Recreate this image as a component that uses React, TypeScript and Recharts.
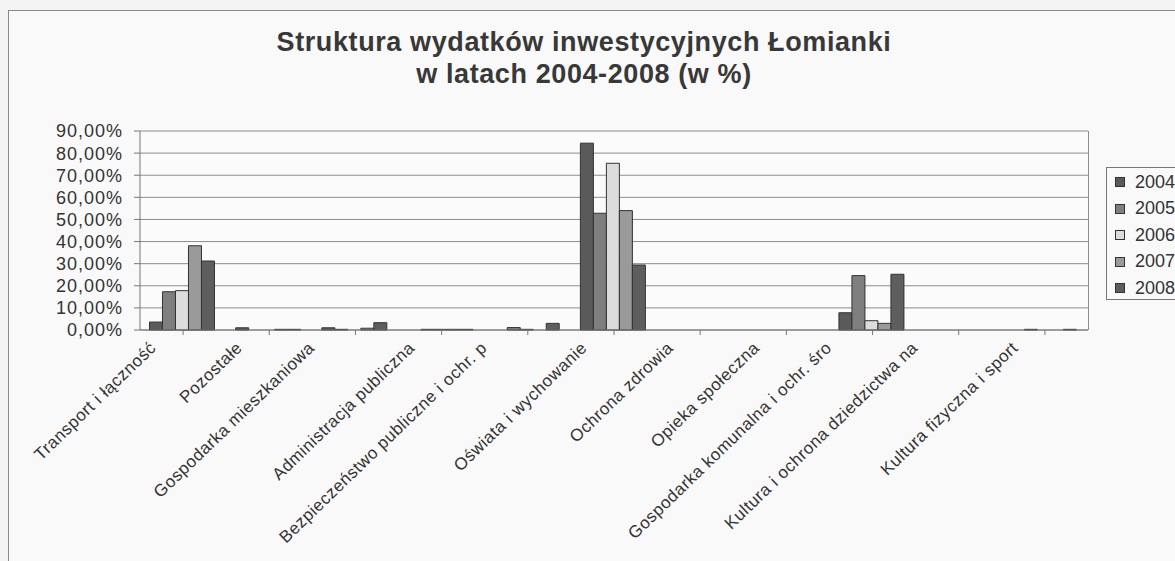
import { BarChart, Bar, XAxis, YAxis, CartesianGrid } from "recharts";

// Dane (w %)
const kategorie = [
  "Transport i łączność",
  "Pozostałe",
  "Gospodarka mieszkaniowa",
  "Administracja publiczna",
  "Bezpieczeństwo publiczne i ochr. p",
  "Oświata i wychowanie",
  "Ochrona zdrowia",
  "Opieka społeczna",
  "Gospodarka  komunalna i ochr. śro",
  "Kultura i ochrona dziedzictwa na",
  "Kultura fizyczna i sport",
];

// etykiety obcięte w oryginale (Excel ucina je od prawej)
const obciete = new Set([
  "Gospodarka mieszkaniowa",
  "Bezpieczeństwo publiczne i ochr. p",
  "Gospodarka  komunalna i ochr. śro",
  "Kultura i ochrona dziedzictwa na",
]);

const lata = ["2004", "2005", "2006", "2007", "2008"];

const w2004 = [3.6, 1.0, 1.0, 0, 0, 84.5, 0, 0, 7.8, 0, 0];
const w2005 = [17.3, 0, 0.3, 0.3, 1.1, 52.8, 0, 0, 24.6, 0, 0.3];
const w2006 = [17.8, 0, 0, 0.3, 0.3, 75.4, 0, 0, 4.2, 0, 0];
const w2007 = [38.1, 0.3, 0.8, 0.3, 0, 54.0, 0, 0, 3.0, 0, 0];
const w2008 = [31.2, 0.3, 3.3, 0.3, 3.0, 29.4, 0, 0, 25.2, 0, 0.3];

const yTicks = [0, 10, 20, 30, 40, 50, 60, 70, 80, 90];

const kolory = ["#5a5a5a", "#7f7f7f", "#dcdcdc", "#9a9a9a", "#5e5e5e"];

const serie = [w2004, w2005, w2006, w2007, w2008];

const dane = kategorie.map((nazwa, i) => {
  const wiersz: Record<string, string | number> = { nazwa };
  lata.forEach((rok, j) => {
    wiersz[rok] = serie[j][i];
  });
  return wiersz;
});

const FONT = "'Liberation Sans', Arial, sans-serif";

function formatProcent(v: number): string {
  return v.toFixed(2).replace(".", ",") + "%";
}

function EtykietaX(props: any) {
  const { x, y, payload } = props;
  const przesuniecie = obciete.has(payload.value) ? 14 : 0;
  return (
    <g transform={`translate(${x - 26 - przesuniecie},${y + 12})`}>
      <text
        textAnchor="end"
        transform="rotate(-44)"
        fontSize={17}
        letterSpacing={0.5}
        fontFamily={FONT}
        fill="#333"
      >
        {payload.value}
      </text>
    </g>
  );
}

export default function App() {
  return (
    <div
      style={{
        position: "absolute",
        left: 0,
        top: 0,
        width: 1175,
        height: 561,
        background: "#f4f4f4",
        overflow: "hidden",
        fontFamily: FONT,
      }}
    >
      <div
        style={{
          position: "absolute",
          left: 8,
          top: 10,
          width: 1200,
          height: 600,
          border: "1px solid #8a8a8a",
          background: "#f9f9f9",
        }}
      />
      <div
        style={{
          position: "absolute",
          left: 0,
          top: 26,
          width: 1168,
          textAlign: "center",
          fontSize: 27,
          letterSpacing: 0.6,
          fontWeight: "bold",
          color: "#383838",
          lineHeight: "32px",
        }}
      >
        Struktura wydatków inwestycyjnych Łomianki
        <br />
        w latach 2004-2008 (w %)
      </div>
      <div style={{ position: "absolute", left: 0, top: 0 }}>
        <BarChart
          width={1175}
          height={561}
          data={dane}
          margin={{ top: 131, right: 87, bottom: 31, left: 0 }}
          barCategoryGap="11%"
          barGap={0}
        >
          <CartesianGrid
            vertical={false}
            stroke="#8c8c8c"
            fill="#fbfbfb"
          />
          <XAxis
            dataKey="nazwa"
            interval={0}
            height={200}
            tick={<EtykietaX />}
            tickLine={{ stroke: "#777" }}
            axisLine={{ stroke: "#777" }}
            tickSize={5}
          />
          <YAxis
            width={140}
            domain={[0, 90]}
            ticks={yTicks}
            interval={0}
            tickFormatter={formatProcent}
            tick={{ fontSize: 18, fill: "#333", fontFamily: FONT, letterSpacing: 1 }}
            tickLine={{ stroke: "#777" }}
            axisLine={{ stroke: "#777" }}
            tickSize={6}
            tickMargin={11}
          />
          {lata.map((rok, j) => (
            <Bar
              key={rok}
              dataKey={rok}
              fill={kolory[j]}
              stroke="#333"
              strokeWidth={1}
              isAnimationActive={false}
            />
          ))}
        </BarChart>
      </div>
      <div
        style={{
          position: "absolute",
          left: 1088,
          top: 131,
          width: 1,
          height: 199,
          background: "#8c8c8c",
        }}
      />
      <div
        style={{
          position: "absolute",
          left: 1106,
          top: 167,
          width: 100,
          height: 131,
          border: "1px solid #777",
          background: "#f9f9f9",
        }}
      >
        {lata.map((rok, j) => (
          <div
            key={rok}
            style={{
              position: "absolute",
              left: 8,
              top: 2 + j * 26.5,
              height: 24,
              display: "flex",
              alignItems: "center",
              fontSize: 18,
              color: "#333",
            }}
          >
            <span
              style={{
                display: "inline-block",
                width: 8,
                height: 8,
                background: kolory[j],
                border: "1px solid #333",
                marginRight: 10,
              }}
            />
            {rok}
          </div>
        ))}
      </div>
    </div>
  );
}
